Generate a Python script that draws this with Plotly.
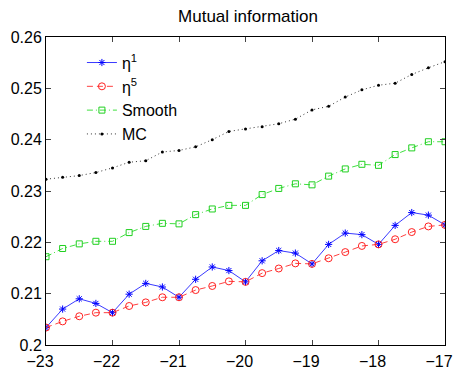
import plotly.graph_objects as go

x = [-23 + 0.25 * i for i in range(25)]

eta1 = [0.2034, 0.2070, 0.2090, 0.2081, 0.2063, 0.2099, 0.2120, 0.2113, 0.2093,
        0.2128, 0.2152, 0.2145, 0.2123, 0.2164, 0.2184, 0.2179, 0.2158, 0.2196,
        0.2218, 0.2215, 0.2196, 0.2233, 0.2258, 0.2253, 0.2234]
eta5 = [0.2034, 0.2046, 0.2056, 0.2063, 0.2063, 0.2076, 0.2083, 0.2093, 0.2093,
        0.2107, 0.2115, 0.2124, 0.2123, 0.2140, 0.2149, 0.2159, 0.2158, 0.2169,
        0.2181, 0.2193, 0.2196, 0.2206, 0.2220, 0.2231, 0.2234]
smooth = [0.2172, 0.2188, 0.2197, 0.2202, 0.2202, 0.2219, 0.2231, 0.2237, 0.2236,
          0.2254, 0.2265, 0.2272, 0.2272, 0.2293, 0.2305, 0.2314, 0.2312, 0.2329,
          0.2343, 0.2352, 0.2350, 0.2371, 0.2384, 0.2396, 0.2396]
mc = [0.2323, 0.2327, 0.2330, 0.2336, 0.2345, 0.2356, 0.2359, 0.2376, 0.2379,
      0.2386, 0.2400, 0.2416, 0.2421, 0.2425, 0.2431, 0.2440, 0.2458, 0.2465,
      0.2483, 0.2497, 0.2506, 0.2510, 0.2527, 0.2540, 0.2552]

x_ticks = [-23, -22, -21, -20, -19, -18, -17]
y_ticks = [0.2, 0.21, 0.22, 0.23, 0.24, 0.25, 0.26]
y_tick_labels = ["0.2", "0.21", "0.22", "0.23", "0.24", "0.25", "0.26"]

fig = go.Figure()
fig.add_trace(go.Scatter(x=x, y=eta1, name="η<sup>1</sup>", mode="lines+markers",
                         line=dict(color="#3a3aff", width=1),
                         marker=dict(symbol="asterisk-open", size=6, color="#0000ff",
                                     line=dict(color="#0000ff", width=1))))
fig.add_trace(go.Scatter(x=x, y=eta5, name="η<sup>5</sup>", mode="lines+markers",
                         line=dict(color="#ff4040", width=1, dash="6px,4px"),
                         marker=dict(symbol="circle-open", size=7, color="#ff2020",
                                     line=dict(color="#ff2020", width=1))))
fig.add_trace(go.Scatter(x=x, y=smooth, name="Smooth", mode="lines+markers",
                         line=dict(color="#40e040", width=1, dash="6px,3px,1px,3px"),
                         marker=dict(symbol="square-open", size=6, color="#20d020",
                                     line=dict(color="#20d020", width=1))))
fig.add_trace(go.Scatter(x=x, y=mc, name="MC", mode="lines+markers",
                         line=dict(color="#333333", width=1, dash="1px,3px"),
                         marker=dict(symbol="circle", size=3, color="#000000")))

fig.update_layout(
    width=462, height=379,
    margin=dict(l=46, r=9, t=37, b=23),
    paper_bgcolor="white", plot_bgcolor="white",
    font=dict(family="Liberation Sans, Arial, sans-serif", size=16, color="black"),
    title=dict(text="Mutual information", x=248 / 462, xanchor="center",
               y=1 - 16 / 379, yanchor="middle", font=dict(size=17)),
    legend=dict(x=0.09, y=0.972, xanchor="left", yanchor="top",
                bgcolor="rgba(0,0,0,0)", borderwidth=0, font=dict(size=16),
                tracegroupgap=0, itemwidth=30),
    showlegend=True,
)
fig.update_xaxes(range=[-23, -17], tickvals=x_ticks, ticks="inside", ticklen=5,
                 showline=True, linecolor="black", linewidth=1, mirror="allticks",
                 showgrid=False, zeroline=False, tickfont=dict(size=16),
                 ticklabeloverflow="allow", ticklabelshift=-6, ticklabelstandoff=2)
fig.update_yaxes(range=[0.2, 0.26], tickvals=y_ticks, ticktext=y_tick_labels,
                 ticks="inside", ticklen=5,
                 showline=True, linecolor="black", linewidth=1, mirror="allticks",
                 showgrid=False, zeroline=False, tickfont=dict(size=16),
                 ticklabeloverflow="allow")

fig.write_html("out.html", config={"displayModeBar": False},
               post_script="document.body.style.margin='0';")
